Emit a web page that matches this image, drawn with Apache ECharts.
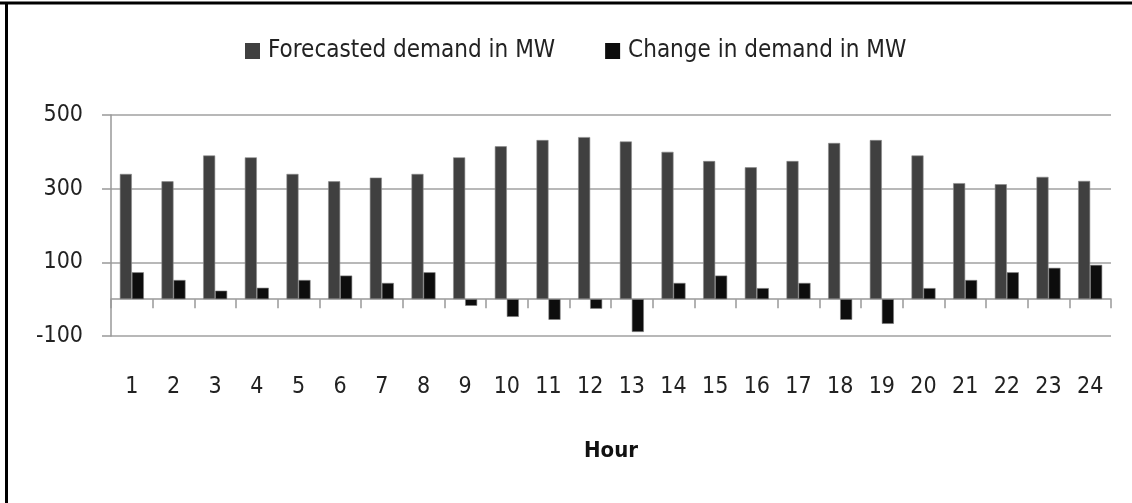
<!DOCTYPE html>
<html>
<head>
<meta charset="utf-8">
<script src="https://cdn.jsdelivr.net/npm/echarts@6/dist/echarts.min.js"></script>
<style>
html,body{margin:0;padding:0;background:#fff;}
#chart{width:1132px;height:503px;}
</style>
</head>
<body>
<div id="chart"></div>
<script>
var hours = ['1','2','3','4','5','6','7','8','9','10','11','12','13','14','15','16','17','18','19','20','21','22','23','24'];
var forecastDemand = [340,320,390,385,340,320,330,340,385,415,432,440,428,400,375,358,375,424,432,390,315,312,332,321];
var changeDemand = [73,52,23,31,52,64,44,73,-18,-48,-56,-26,-89,44,64,30,44,-56,-67,30,52,73,85,93];
var yTicks = {min:-100, max:500, interval:200};
var seriesNames = ['Forecasted demand in MW','Change in demand in MW'];
var xAxisTitle = 'Hour';

var FONT = "'DejaVu Sans Condensed','Liberation Sans Narrow','Liberation Sans',sans-serif";
var chart = echarts.init(document.getElementById('chart'), null, {renderer:'canvas'});
chart.setOption({
  animation:false,
  backgroundColor:'#fff',
  textStyle:{fontFamily:FONT, color:'#222'},
  legend:{
    left:245, top:39, padding:0,
    itemWidth:15, itemHeight:16, itemGap:50,
    icon:'rect',
    itemStyle:{borderWidth:0},
    textStyle:{fontFamily:FONT, fontSize:24, color:'#222', padding:[0,0,0,3]},
    data:seriesNames
  },
  grid:{left:111, right:21, top:115, bottom:167, containLabel:false},
  xAxis:[{
    type:'category', data:hours, position:'bottom',
    axisLine:{show:false, onZero:false},
    axisTick:{show:false},
    axisLabel:{margin:40, fontFamily:FONT, fontSize:23, color:'#222'},
    name:xAxisTitle, nameLocation:'middle', nameGap:104,
    nameTextStyle:{fontFamily:FONT, fontSize:22, fontWeight:'bold', color:'#111'}
  },{
    type:'category', data:hours, position:'bottom',
    axisLine:{show:true, onZero:true, lineStyle:{color:'#999', width:1.5}},
    axisTick:{show:true, length:9, lineStyle:{color:'#999', width:1.5}},
    axisLabel:{show:false}
  }],
  yAxis:{
    type:'value', min:yTicks.min, max:yTicks.max, interval:yTicks.interval,
    axisLine:{show:true, lineStyle:{color:'#999', width:1.5}},
    axisTick:{show:true, length:9, lineStyle:{color:'#999', width:1.5}},
    splitLine:{show:true, lineStyle:{color:'#a0a0a0', width:1.5}},
    axisLabel:{margin:28, fontFamily:FONT, fontSize:23, color:'#222'}
  },
  series:[{
    name:seriesNames[0], type:'bar', xAxisIndex:0, data:forecastDemand,
    barWidth:12, barGap:'0%',
    itemStyle:{color:'#404040', borderColor:'#8a8a8a', borderWidth:0.6}
  },{
    name:seriesNames[1], type:'bar', xAxisIndex:0, data:changeDemand,
    barWidth:12, barGap:'0%',
    itemStyle:{color:'#0d0d0d', borderColor:'#7a7a7a', borderWidth:0.6}
  }],
  graphic:[
    {type:'line', shape:{x1:0, y1:3, x2:1132, y2:3}, style:{stroke:'#000', lineWidth:3}},
    {type:'line', shape:{x1:6.5, y1:2, x2:6.5, y2:503}, style:{stroke:'#000', lineWidth:3}}
  ]
});
</script>
</body>
</html>
